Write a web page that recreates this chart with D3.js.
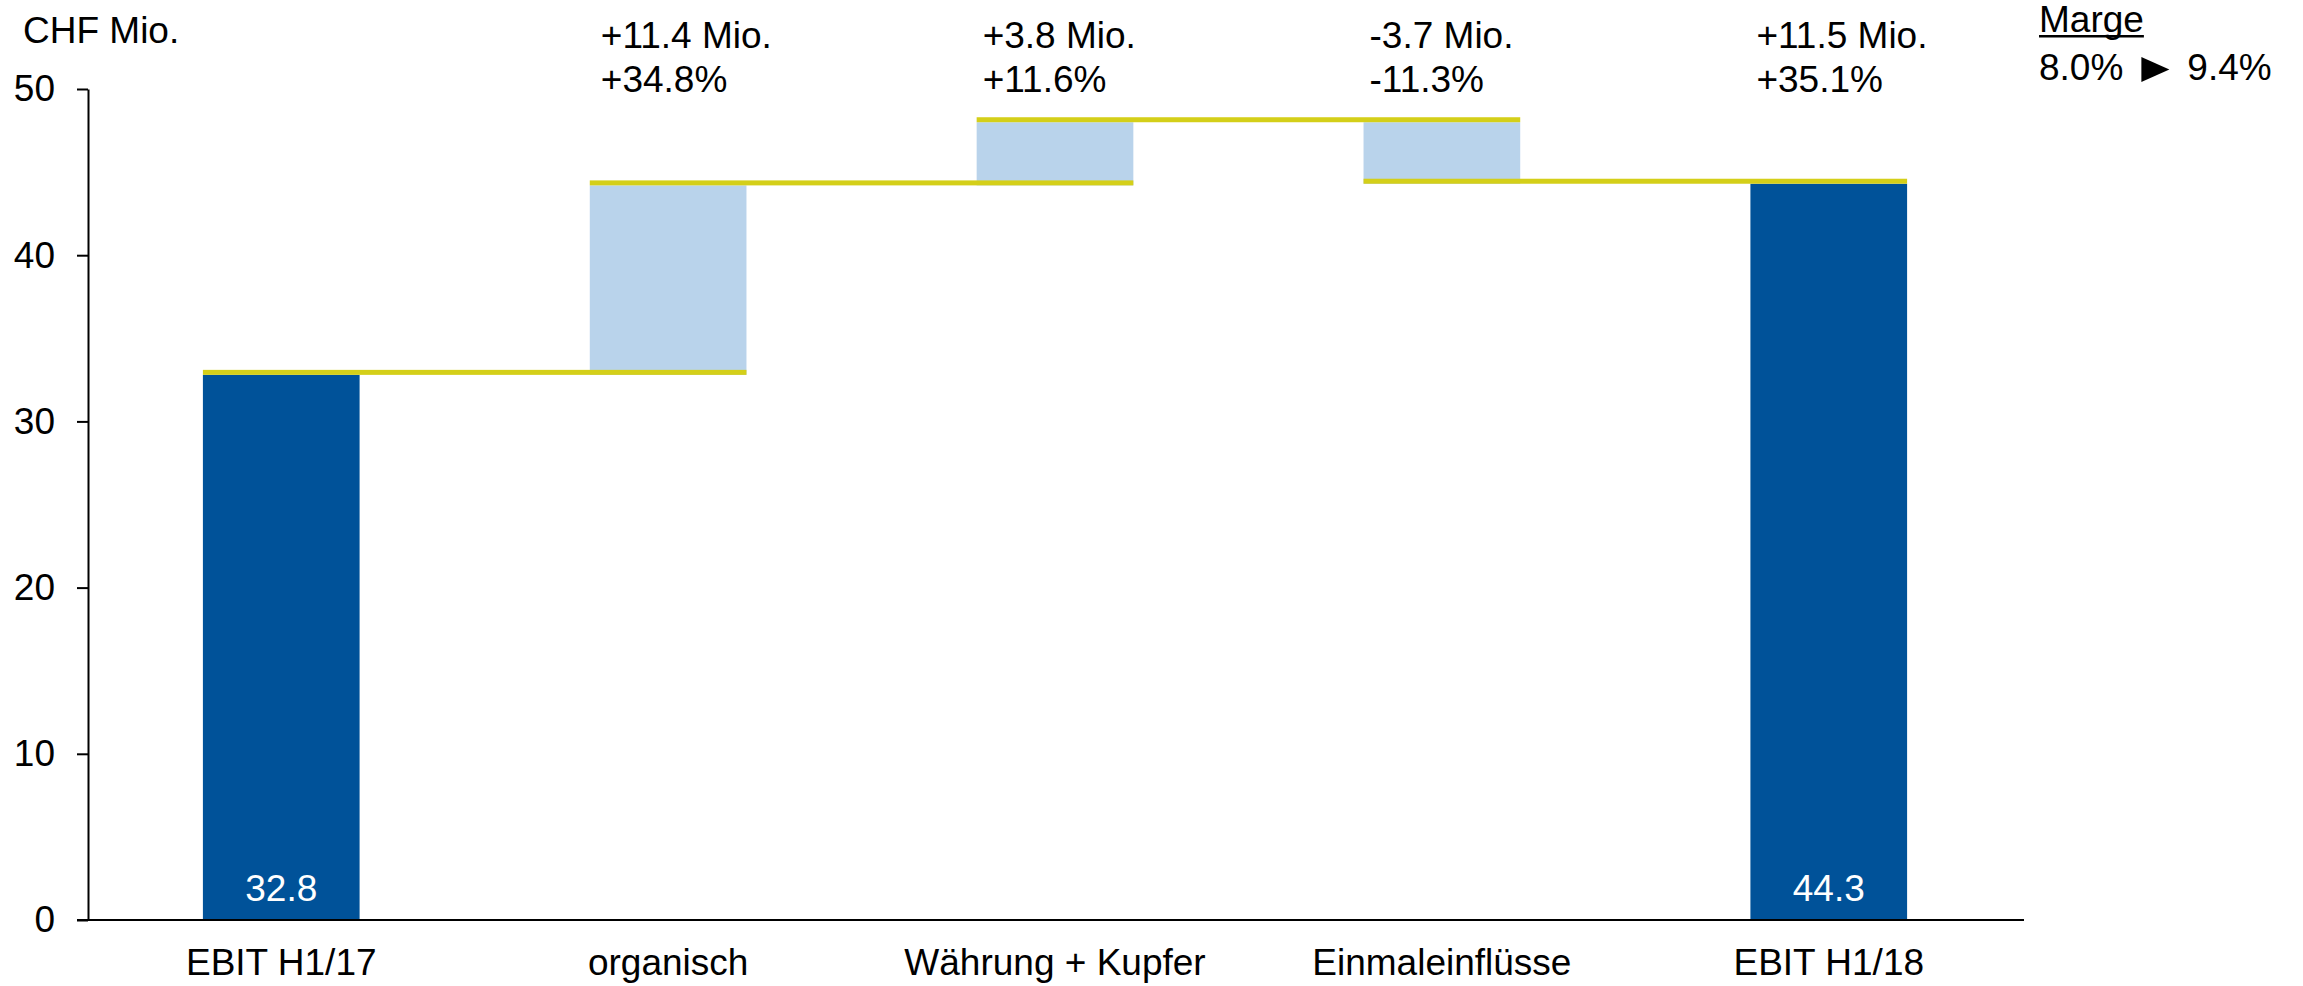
<!DOCTYPE html>
<html>
<head>
<meta charset="utf-8">
<script src="https://cdn.jsdelivr.net/npm/d3@7/dist/d3.min.js"></script>
<style>
  html, body { margin: 0; padding: 0; background: #fff; }
  svg { display: block; }
  text { font-family: "Liberation Sans", Arial, sans-serif; fill: #000; }
</style>
</head>
<body>
<svg id="chart" width="2303" height="986"></svg>
<script>
// EBIT bridge H1/17 -> H1/18, CHF million
const categories = ["EBIT H1/17", "organisch", "Währung + Kupfer", "Einmaleinflüsse", "EBIT H1/18"];
const barKinds   = ["total", "delta", "delta", "delta", "total"];
const values     = [32.8, 11.4, 3.8, -3.7, 44.3];
const changeMio  = ["", "+11.4 Mio.", "+3.8 Mio.", "-3.7 Mio.", "+11.5 Mio."];
const changePct  = ["", "+34.8%", "+11.6%", "-11.3%", "+35.1%"];
const yTicks     = [0, 10, 20, 30, 40, 50];
const marginFrom = "8.0%";
const marginTo   = "9.4%";

const COLORS = { total: "#005299", delta: "#b9d3eb", connector: "#d4cf19", axis: "#000" };
const FONT = 37;
// horizontal inset of each change annotation from its bar's left edge
const ANNOT_INSET = { "organisch": 11 };
const DEFAULT_INSET = 6;

const svg = d3.select("#chart");

const x = d3.scaleBand()
  .domain(categories)
  .range([88, 2022])
  .paddingInner(0.595)
  .paddingOuter(0.297);

const y = d3.scaleLinear().domain([0, 50]).range([920, 89]);

// running waterfall positions
let running = 0;
const bars = categories.map((c, i) => {
  let start, end;
  if (barKinds[i] === "total") { start = 0; end = values[i]; running = values[i]; }
  else { start = running; end = running + values[i]; running = end; }
  return { cat: c, kind: barKinds[i], start, end, value: values[i], i };
});

// bars
svg.append("g").selectAll("rect")
  .data(bars).join("rect")
  .attr("x", d => x(d.cat))
  .attr("width", x.bandwidth())
  .attr("y", d => y(Math.max(d.start, d.end)))
  .attr("height", d => Math.abs(y(d.start) - y(d.end)))
  .attr("fill", d => COLORS[d.kind]);

// connector lines: from one bar's left edge to the next bar's right edge
const links = bars.slice(0, -1).map((d, i) => ({ level: d.end, from: d.cat, to: bars[i + 1].cat }));
svg.append("g").selectAll("rect")
  .data(links).join("rect")
  .attr("x", d => x(d.from))
  .attr("width", d => x(d.to) + x.bandwidth() - x(d.from))
  .attr("y", d => y(d.level) - 5)
  .attr("height", 5)
  .attr("fill", COLORS.connector);

// value labels inside total bars
svg.append("g").selectAll("text")
  .data(bars.filter(d => d.kind === "total")).join("text")
  .attr("x", d => x(d.cat) + x.bandwidth() / 2)
  .attr("y", y(0) - 19)
  .attr("text-anchor", "middle")
  .style("fill", "#fff")
  .style("font-size", FONT + "px")
  .text(d => d3.format(".1f")(d.value));

// y axis
const yAxis = d3.axisLeft(y).tickValues(yTicks).tickSize(11).tickSizeOuter(0).tickPadding(22);
const gy = svg.append("g").attr("transform", "translate(88,0)").call(yAxis);
gy.select(".domain").attr("stroke", COLORS.axis).attr("stroke-width", 2);
gy.selectAll(".tick line").attr("stroke", COLORS.axis).attr("stroke-width", 2);
gy.selectAll(".tick text")
  .style("font-size", FONT + "px")
  .style("font-family", "Liberation Sans, Arial, sans-serif")
  .attr("fill", "#000");

// x axis baseline
svg.append("line")
  .attr("x1", 77).attr("x2", 2024)
  .attr("y1", y(0)).attr("y2", y(0))
  .attr("stroke", COLORS.axis).attr("stroke-width", 2);

// category labels
const xAxis = d3.axisBottom(x).tickSize(0).tickPadding(0);
const gx = svg.append("g").attr("transform", `translate(0,${y(0)})`).call(xAxis);
gx.select(".domain").remove();
gx.selectAll(".tick text")
  .attr("dy", null)
  .attr("y", 55)
  .style("font-size", FONT + "px")
  .style("font-family", "Liberation Sans, Arial, sans-serif")
  .attr("fill", "#000");

// unit label
svg.append("text").attr("x", 23).attr("y", 43).style("font-size", FONT + "px").text("CHF Mio.");

// change annotations above the bars
const ann = svg.append("g").selectAll("g")
  .data(bars.filter(d => changeMio[d.i])).join("g")
  .attr("transform", d => `translate(${x(d.cat) + (ANNOT_INSET[d.cat] ?? DEFAULT_INSET)},0)`);
ann.append("text").attr("y", 48).style("font-size", FONT + "px").text(d => changeMio[d.i]);
ann.append("text").attr("y", 92).style("font-size", FONT + "px").text(d => changePct[d.i]);

// margin legend
const lg = svg.append("g");
const mt = lg.append("text").attr("x", 2039).attr("y", 32).style("font-size", FONT + "px").text("Marge");
const mw = mt.node().getComputedTextLength();
lg.append("rect").attr("x", 2039).attr("y", 35).attr("width", mw).attr("height", 2.5).attr("fill", "#000");
const t1 = lg.append("text").attr("x", 2039).attr("y", 80).style("font-size", FONT + "px").text(marginFrom);
const w1 = t1.node().getComputedTextLength();
const tx = 2039 + w1 + 18;
lg.append("path")
  .attr("d", `M${tx},57 L${tx + 28},69.5 L${tx},82 Z`)
  .attr("fill", "#000");
lg.append("text").attr("x", tx + 46).attr("y", 80).style("font-size", FONT + "px").text(marginTo);
</script>
</body>
</html>
